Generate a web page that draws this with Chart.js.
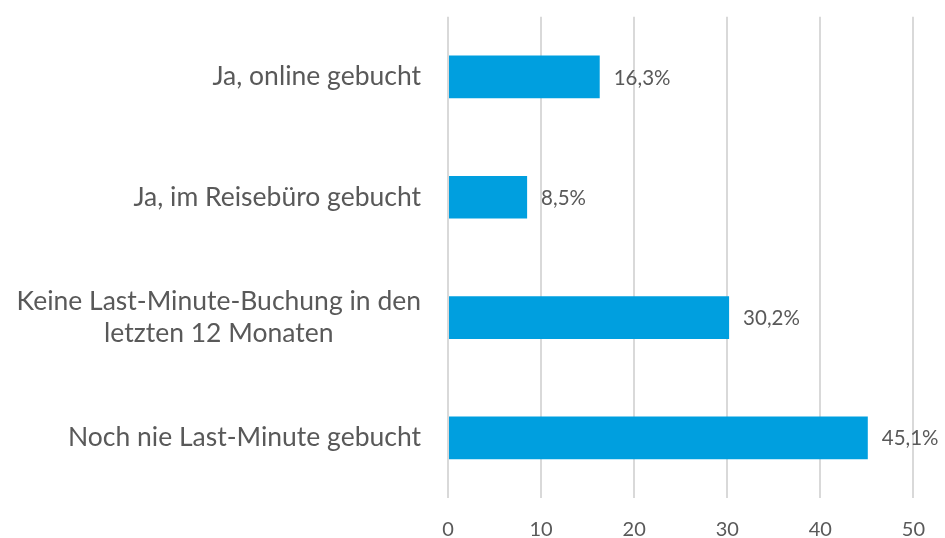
<!DOCTYPE html>
<html>
<head>
<meta charset="utf-8">
<script src="https://cdn.jsdelivr.net/npm/chart.js@4.4.1/dist/chart.umd.min.js"></script>
<style>
  html, body { margin: 0; padding: 0; background: #fff; }
  #wrap { width: 945px; height: 538px; }
</style>
</head>
<body>
<div id="wrap"><canvas id="chart"></canvas></div>
<script>
// ---- DATA ----
const categories = [
  'Ja, online gebucht',
  'Ja, im Reisebüro gebucht',
  ['Keine Last-Minute-Buchung in den', 'letzten 12 Monaten'],
  'Noch nie Last-Minute gebucht'
];
const values = [16.3, 8.5, 30.2, 45.1];
const xTicks = [0, 10, 20, 30, 40, 50];

const FONT = 'Lato, "Open Sans", sans-serif';
const TEXT = '#595959';

// ---- data labels next to the bars ----
const valueLabels = {
  id: 'valueLabels',
  afterDatasetsDraw(chart) {
    const ctx = chart.ctx;
    const meta = chart.getDatasetMeta(0);
    ctx.save();
    ctx.font = '20.5px ' + FONT;
    ctx.fillStyle = TEXT;
    ctx.textAlign = 'left';
    ctx.textBaseline = 'middle';
    meta.data.forEach((bar, i) => {
      ctx.fillText(values[i].toFixed(1).replace('.', ',') + '%', bar.x + 14, bar.y + 1);
    });
    ctx.restore();
  }
};

// ---- category labels, multi-line ones centred on their widest line ----
const catLabels = {
  id: 'catLabels',
  afterDraw(chart) {
    const ctx = chart.ctx;
    const y = chart.scales.y;
    const right = chart.chartArea.left - 27;
    const lh = 32;
    ctx.save();
    ctx.font = '26.5px ' + FONT;
    ctx.fillStyle = TEXT;
    ctx.textBaseline = 'middle';
    categories.forEach((c, i) => {
      const py = y.getPixelForTick(i);
      const lines = Array.isArray(c) ? c : [c];
      const w = Math.max(...lines.map(l => ctx.measureText(l).width));
      ctx.textAlign = 'center';
      lines.forEach((l, k) => {
        const ly = py + (k - (lines.length - 1) / 2) * lh;
        ctx.fillText(l, right - w / 2, ly);
      });
    });
    ctx.restore();
  }
};

new Chart(document.getElementById('chart'), {
  type: 'bar',
  data: {
    labels: categories,
    datasets: [{
      data: values,
      backgroundColor: '#009FDF',
      barPercentage: 0.355,
      categoryPercentage: 1.0,
    }]
  },
  options: {
    indexAxis: 'y',
    responsive: true,
    maintainAspectRatio: false,
    animation: false,
    layout: { padding: { top: 13, right: 30, bottom: 0, left: 0 } },
    plugins: { legend: { display: false }, tooltip: { enabled: false } },
    scales: {
      x: {
        min: 0, max: 50,
        afterBuildTicks: s => { s.ticks = xTicks.map(v => ({ value: v })); },
        afterFit: s => { s.height = 40; },
        grid: { color: '#d9d9d9', lineWidth: 2, drawTicks: false },
        border: { display: false },
        ticks: { color: TEXT, font: { family: FONT, size: 20 }, padding: 20 }
      },
      y: {
        afterFit: s => { s.width = 448; },
        grid: { display: false },
        border: { display: false },
        ticks: { color: 'transparent', font: { family: FONT, size: 23 } }
      }
    }
  },
  plugins: [valueLabels, catLabels]
});
</script>
</body>
</html>
